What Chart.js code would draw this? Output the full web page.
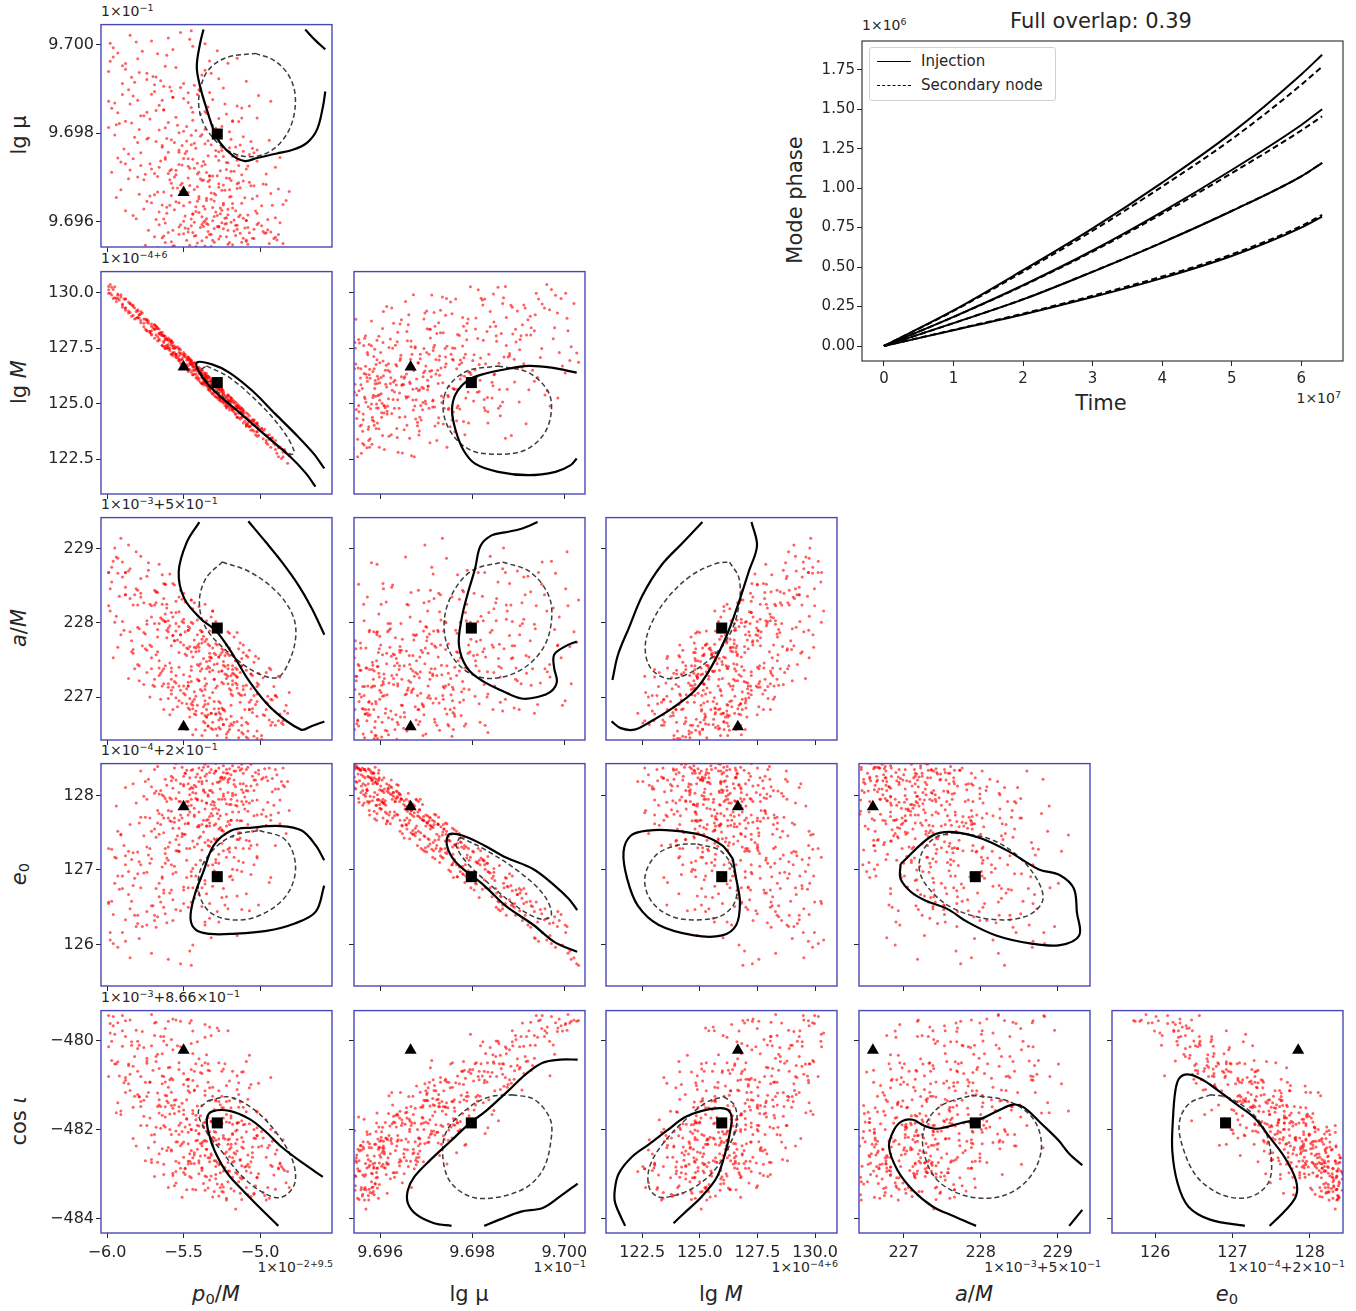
<!DOCTYPE html>
<html>
<head>
<meta charset="utf-8">
<script src="https://cdn.jsdelivr.net/npm/chart.js@4.4.1/dist/chart.umd.min.js"></script>
<style>
  body { margin: 0; background: #fff; }
  #fig { position: relative; width: 1356px; height: 1311px; overflow: hidden;
         font-family: "DejaVu Sans", sans-serif; color: #262626; }
  #fig canvas { position: absolute; }
  .txt { position: absolute; white-space: nowrap; line-height: 1; }
  .off { font-size: 14px; }
  .off.right { transform: translateX(-100%); }
  sup { font-size: 0.68em; vertical-align: 0.5em; line-height: 0; }
  sub { font-size: 0.7em; vertical-align: -0.25em; line-height: 0; }
  .ylab { font-size: 21px; transform: translate(-50%, -50%) rotate(-90deg); }
  .xlab { font-size: 21px; transform: translate(-50%, -50%); }
  .ctr { transform: translate(-50%, -50%); font-size: 21px; }
  #legend { position: absolute; left: 869px; top: 47px; width: 185px; height: 52px;
            border: 1px solid #d0d0d0; border-radius: 3px; background: rgba(255,255,255,0.85);
            font-size: 15px; }
  #legend .row { position: absolute; left: 7px; height: 18px; display: flex; align-items: center; }
  #legend .swatch { width: 34px; height: 0; border-top: 1.8px solid #000; margin-right: 10px; }
  #legend .swatch.dash { border-top-style: dashed; }
</style>
</head>
<body>
<div id="fig">
  <!-- offset texts of the row axes -->
  <div class="txt off" style="left:101px;top:4px">1×10<sup>−1</sup></div>
  <div class="txt off" style="left:101px;top:251px">1×10<sup>−4+6</sup></div>
  <div class="txt off" style="left:101px;top:497px">1×10<sup>−3</sup>+5×10<sup>−1</sup></div>
  <div class="txt off" style="left:101px;top:743px">1×10<sup>−4</sup>+2×10<sup>−1</sup></div>
  <div class="txt off" style="left:101px;top:990px">1×10<sup>−3</sup>+8.66×10<sup>−1</sup></div>
  <!-- offset texts of the column axes -->
  <div class="txt off right" style="left:333px;top:1260px">1×10<sup>−2+9.5</sup></div>
  <div class="txt off right" style="left:586px;top:1260px">1×10<sup>−1</sup></div>
  <div class="txt off right" style="left:838px;top:1260px">1×10<sup>−4+6</sup></div>
  <div class="txt off right" style="left:1101px;top:1260px">1×10<sup>−3</sup>+5×10<sup>−1</sup></div>
  <div class="txt off right" style="left:1345px;top:1260px">1×10<sup>−4</sup>+2×10<sup>−1</sup></div>
  <!-- axis labels -->
  <div class="txt ylab" style="left:19px;top:135px">lg μ</div>
  <div class="txt ylab" style="left:19px;top:382px">lg <i>M</i></div>
  <div class="txt ylab" style="left:19px;top:628px"><i>a</i>/<i>M</i></div>
  <div class="txt ylab" style="left:19px;top:874px"><i>e</i><sub>0</sub></div>
  <div class="txt ylab" style="left:19px;top:1121px">cos <i>ι</i></div>
  <div class="txt xlab" style="left:216px;top:1294px"><i>p</i><sub>0</sub>/<i>M</i></div>
  <div class="txt xlab" style="left:469px;top:1294px">lg μ</div>
  <div class="txt xlab" style="left:721px;top:1294px">lg <i>M</i></div>
  <div class="txt xlab" style="left:974px;top:1294px"><i>a</i>/<i>M</i></div>
  <div class="txt xlab" style="left:1227px;top:1294px"><i>e</i><sub>0</sub></div>
  <!-- phase plot texts -->
  <div class="txt ctr" style="left:1101px;top:21px">Full overlap: 0.39</div>
  <div class="txt off" style="left:862px;top:18px">1×10<sup>6</sup></div>
  <div class="txt off right" style="left:1341px;top:391px">1×10<sup>7</sup></div>
  <div class="txt ylab" style="left:795px;top:200px">Mode phase</div>
  <div class="txt ctr" style="left:1101px;top:403px">Time</div>
  <div id="legend">
    <div class="row" style="top:4px"><span class="swatch"></span>Injection</div>
    <div class="row" style="top:28px"><span class="swatch dash"></span>Secondary node</div>
  </div>
</div>
<script>
// parameters in column order: p0/M, lg mu, lg M, a/M, e0, cos iota (offset units)
const paramKeys = ['p0', 'lgmu', 'lgM', 'aM', 'e0', 'cosi'];
const axisMin = [-6.04, 9.69543, 120.93, 226.42, 125.44, -484.32];
const axisMax = [-4.53, 9.70045, 130.95, 229.42, 128.43, -479.33];
const tickValues = [
  [-6.0, -5.5, -5.0],
  [9.696, 9.698, 9.700],
  [122.5, 125.0, 127.5, 130.0],
  [227, 228, 229],
  [126, 127, 128],
  [-484, -482, -480]
];
const tickDecimals = [1, 3, 1, 0, 0, 0];

const injectionPoint = [-5.5, 9.69666, 126.65, 226.6, 127.85, -480.22];
const secondaryPoint = [-5.28, 9.69798, 125.95, 227.93, 126.91, -481.85];

// posterior samples: [p0, lgmu, lgM, aM, e0, cosi]
const posterior = [
[-5.32,9.69572,126.01,226.78,128.07,-482.58],[-5.18,9.69548,124.74,227.22,128.40,-482.63],
[-5.45,9.69591,126.77,226.91,127.87,-483.08],[-5.05,9.69563,124.28,226.84,128.26,-482.39],
[-5.38,9.69536,125.91,227.08,128.19,-482.92],[-5.25,9.69598,125.40,227.65,128.24,-483.23],
[-5.58,9.69555,127.73,227.04,128.20,-482.48],[-4.95,9.69582,123.17,226.91,128.20,-483.30],
[-5.29,9.69519,125.91,226.77,128.33,-482.70],[-5.12,9.69541,124.39,226.72,128.42,-483.11],
[-5.47,9.69577,126.55,227.90,127.92,-482.32],[-5.22,9.69566,125.30,226.45,128.35,-483.58],
[-5.35,9.69507,125.96,227.48,128.29,-483.06],[-5.02,9.69594,124.13,226.44,127.94,-483.07],
[-5.41,9.69552,126.61,227.44,128.29,-482.44],[-5.15,9.69583,124.39,227.37,127.93,-482.99],
[-5.55,9.69528,127.23,227.29,128.43,-482.94],[-5.28,9.69589,125.90,226.48,128.18,-483.22],
[-4.88,9.69571,123.01,226.68,128.09,-482.86],[-5.36,9.69545,125.88,227.10,128.42,-483.36],
[-5.21,9.69513,125.14,227.18,128.21,-482.93],[-5.62,9.69597,128.04,228.12,128.22,-481.94],
[-5.09,9.69559,124.04,226.26,128.13,-483.30],[-5.33,9.69532,126.03,227.54,128.31,-483.13],
[-5.44,9.69576,126.30,226.94,128.35,-483.34],[-5.19,9.69599,125.15,227.09,127.88,-482.40],
[-5.67,9.69542,128.02,227.61,128.39,-482.73],[-5.26,9.69567,125.22,226.77,128.24,-483.30],
[-5.01,9.69526,123.97,227.17,128.29,-482.99],[-5.39,9.69587,126.57,227.35,128.24,-482.59],
[-5.14,9.69505,124.57,226.45,128.38,-483.17],[-5.31,9.69558,125.85,227.36,128.04,-482.35],
[-5.52,9.69593,126.98,227.84,128.16,-482.87],[-5.08,9.69549,124.33,226.64,128.38,-482.57],
[-5.24,9.69521,125.03,227.48,128.22,-483.40],[-5.43,9.69568,126.69,226.77,128.14,-482.76],
[-4.98,9.69578,123.42,226.76,128.24,-483.41],[-5.34,9.69537,126.19,226.76,128.39,-482.63],
[-5.16,9.69592,124.81,227.49,127.87,-482.96],[-5.49,9.69515,126.63,227.58,128.30,-482.88],
[-5.27,9.69561,125.68,226.84,128.37,-483.49],[-5.11,9.69534,124.68,227.15,128.30,-483.08],
[-5.57,9.69581,127.61,227.13,128.24,-482.98],[-5.37,9.69599,125.94,227.82,128.08,-482.26],
[-5.20,9.69553,124.92,226.61,128.36,-482.93],[-4.92,9.69539,123.42,226.96,128.23,-482.83],
[-5.30,9.69585,125.38,227.24,128.30,-483.39],[-5.46,9.69547,126.79,227.28,128.09,-483.05],
[-5.13,9.69574,124.86,226.28,128.16,-482.67],[-5.60,9.69524,127.46,227.93,128.50,-483.30],
[-5.23,9.69595,125.37,227.41,127.95,-482.21],[-5.04,9.69562,123.76,226.37,128.07,-483.45],
[-5.40,9.69511,126.54,227.22,128.37,-482.75],[-5.17,9.69579,124.77,226.31,128.33,-482.71],
[-5.32,9.69544,125.51,227.53,128.35,-483.04],[-5.53,9.69588,127.45,227.15,128.04,-482.75],
[-5.06,9.69531,124.20,227.31,128.42,-482.97],[-5.42,9.69569,126.32,227.66,128.03,-483.35],
[-5.19,9.69509,125.25,226.74,128.28,-483.32],[-5.35,9.69596,126.11,226.73,128.20,-482.44],
[-4.85,9.69551,122.61,226.68,128.37,-482.88],[-5.25,9.69530,125.10,227.20,128.25,-483.39],
[-5.50,9.69573,127.20,227.15,128.26,-482.28],[-5.10,9.69586,124.21,226.83,127.98,-482.84],
[-5.29,9.69518,125.81,226.57,128.43,-483.01],[-5.38,9.69557,126.16,227.73,128.34,-482.36],
[-5.03,9.69502,124.10,226.90,128.31,-483.26],[-5.64,9.69564,127.62,228.25,128.01,-482.43],
[-5.21,9.69581,124.99,226.53,128.30,-483.17],[-5.45,9.69527,126.92,227.36,128.34,-482.76],
[-5.16,9.69540,124.51,227.19,128.12,-482.55],[-5.34,9.69594,126.24,227.41,128.01,-483.31],
[-4.90,9.69565,123.14,227.02,128.35,-483.34],[-5.24,9.69504,125.48,226.83,128.40,-482.93],
[-5.47,9.69584,126.45,227.15,128.16,-482.77],[-5.12,9.69554,124.64,227.42,128.36,-483.57],
[-5.36,9.69522,126.18,226.65,128.26,-483.04],[-5.27,9.69590,125.33,226.94,128.18,-482.33],
[-5.56,9.69546,127.50,227.76,128.37,-483.26],[-5.07,9.69575,123.96,226.83,127.90,-482.84],
[-5.30,9.69612,125.88,226.84,127.87,-482.19],[-5.55,9.69645,127.18,227.99,127.96,-482.71],
[-5.14,9.69688,124.92,227.05,127.50,-481.50],[-5.42,9.69623,126.17,226.81,128.12,-482.25],
[-5.23,9.69671,125.17,227.56,127.48,-482.54],[-5.68,9.69605,128.39,227.57,128.06,-481.95],
[-5.05,9.69652,123.83,226.79,127.93,-482.62],[-5.37,9.69694,126.39,226.87,127.67,-481.85],
[-5.26,9.69631,125.52,227.57,127.73,-482.97],[-5.48,9.69663,126.62,227.56,127.92,-481.77],
[-5.11,9.69608,124.58,226.40,128.04,-482.42],[-5.33,9.69679,125.68,227.49,127.59,-482.63],
[-5.59,9.69637,127.79,227.46,127.97,-481.65],[-5.20,9.69656,125.32,226.41,127.61,-482.21],
[-5.44,9.69617,126.50,227.99,128.10,-482.63],[-4.96,9.69684,123.59,226.83,127.72,-482.62],
[-5.31,9.69602,125.45,227.06,127.82,-482.17],[-5.52,9.69669,127.23,227.09,127.74,-481.85],
[-5.18,9.69641,124.79,227.37,128.03,-482.73],[-5.39,9.69697,126.47,227.45,127.45,-482.31],
[-5.25,9.69626,125.60,226.70,127.95,-481.87],[-5.72,9.69658,128.25,228.25,127.70,-481.74],
[-5.08,9.69615,124.53,226.54,128.06,-482.78],[-5.35,9.69648,125.86,227.78,127.59,-481.85],
[-5.46,9.69682,126.84,226.83,127.78,-482.54],[-5.22,9.69609,124.90,227.25,127.89,-482.50],
[-5.61,9.69633,127.63,227.80,127.92,-482.47],[-5.15,9.69675,124.89,226.37,127.86,-481.85],
[-5.40,9.69621,126.44,227.67,127.78,-481.92],[-5.29,9.69661,125.31,227.12,127.83,-482.83],
[-4.99,9.69636,123.88,226.43,127.75,-482.37],[-5.50,9.69601,127.30,227.70,128.13,-482.62],
[-5.34,9.69691,125.74,226.91,127.68,-481.73],[-5.21,9.69628,125.19,227.58,128.04,-482.97],
[-5.63,9.69667,127.56,227.38,127.50,-481.91],[-5.10,9.69654,124.41,227.03,127.82,-481.88],
[-5.38,9.69611,126.51,226.78,127.93,-482.86],[-5.27,9.69686,125.63,227.54,127.81,-482.21],
[-5.53,9.69643,126.95,227.60,127.67,-481.59],[-5.17,9.69604,125.02,226.66,128.21,-482.52],
[-5.43,9.69673,126.49,227.77,127.72,-482.52],[-5.02,9.69619,123.53,227.19,127.74,-482.13],
[-5.32,9.69651,125.86,226.58,127.88,-482.54],[-5.76,9.69695,128.82,228.27,127.46,-481.34],
[-5.24,9.69638,125.18,227.18,127.99,-482.13],[-5.45,9.69606,126.92,227.21,127.95,-482.47],
[-5.13,9.69677,124.31,227.33,127.50,-482.69],[-5.36,9.69629,125.98,227.25,128.04,-481.83],
[-5.58,9.69659,127.83,227.09,127.79,-482.45],[-5.19,9.69693,125.05,226.89,127.67,-481.74],
[-5.28,9.69614,125.75,227.45,127.76,-482.74],[-5.41,9.69646,126.21,226.89,127.95,-482.24],
[-4.93,9.69664,123.44,226.62,127.67,-481.99],[-5.66,9.69622,127.91,227.99,128.02,-482.54],
[-5.24,9.69683,125.58,226.63,127.52,-482.19],[-5.37,9.69635,125.84,227.52,128.06,-481.94],
[-5.09,9.69603,124.39,226.46,128.07,-482.82],[-5.51,9.69687,127.02,228.02,127.70,-482.32],
[-5.30,9.69647,125.83,227.24,127.60,-481.78],[-5.16,9.69625,124.56,227.29,128.01,-482.31],
[-5.47,9.69666,127.00,227.20,127.86,-482.71],[-5.22,9.69699,125.00,226.50,127.59,-481.83],
[-5.35,9.69607,126.26,227.18,127.90,-482.26],[-5.12,9.69642,124.39,227.42,127.92,-482.81],
[-5.57,9.69676,127.51,227.83,127.56,-481.52],[-5.26,9.69618,125.22,226.72,128.09,-482.77],
[-5.04,9.69681,124.16,227.02,127.73,-482.00],[-5.40,9.69657,126.34,227.62,127.60,-482.70],
[-5.31,9.69632,126.05,226.56,127.92,-481.84],[-5.20,9.69672,124.72,227.11,127.88,-482.44],
[-5.40,9.69712,126.49,227.72,127.58,-482.09],[-5.62,9.69745,127.59,227.42,127.22,-480.93],
[-5.25,9.69768,125.65,227.60,127.36,-481.85],[-5.51,9.69728,126.97,226.92,127.45,-481.41],
[-5.78,9.69756,129.05,228.35,127.07,-481.37],[-5.33,9.69703,125.63,226.99,127.63,-481.35],
[-5.15,9.69739,124.79,227.12,127.55,-482.22],[-5.58,9.69785,127.23,228.14,127.07,-480.85],
[-5.46,9.69721,126.99,226.98,127.29,-481.89],[-5.07,9.69752,123.96,226.83,127.39,-481.06],
[-5.69,9.69709,128.35,228.44,127.55,-482.11],[-5.36,9.69776,126.28,226.75,127.37,-481.23],
[-5.22,9.69734,125.05,227.30,127.17,-481.37],[-5.53,9.69762,127.50,227.40,127.34,-481.90],
[-5.85,9.69717,129.11,228.33,127.61,-481.12],[-5.30,9.69791,125.53,227.59,126.99,-481.55],
[-5.44,9.69741,126.65,226.84,127.39,-480.90],[-5.12,9.69706,124.79,227.02,127.66,-482.18],
[-5.64,9.69772,128.07,227.35,127.04,-480.97],[-5.38,9.69726,125.91,227.88,127.61,-482.30],
[-5.27,9.69758,125.68,226.79,127.21,-481.37],[-5.56,9.69701,127.30,227.76,127.64,-481.34],
[-5.02,9.69737,124.08,227.14,127.16,-482.14],[-5.48,9.69782,127.07,227.11,127.29,-481.33],
[-5.72,9.69731,128.20,227.70,127.29,-480.94],[-5.19,9.69714,124.85,227.29,127.67,-481.69],
[-5.42,9.69766,126.57,227.61,127.07,-481.78],[-5.34,9.69749,125.79,226.61,127.40,-480.94],
[-5.61,9.69788,127.88,228.25,127.16,-481.36],[-5.09,9.69719,123.99,226.66,127.40,-481.60],
[-5.49,9.69754,127.23,227.03,127.48,-481.94],[-5.80,9.69779,128.88,228.44,126.95,-480.69],
[-5.28,9.69704,125.80,227.15,127.42,-481.86],[-5.37,9.69736,125.94,227.02,127.51,-481.93],
[-5.66,9.69723,128.16,227.29,127.48,-481.33],[-5.16,9.69769,124.91,227.49,127.30,-482.03],
[-5.45,9.69795,126.42,227.61,126.92,-480.65],[-5.24,9.69747,125.38,226.63,127.26,-481.51],
[-5.55,9.69716,127.53,227.89,127.26,-482.03],[-5.89,9.69764,129.72,227.90,127.33,-480.95],
[-5.32,9.69774,126.11,227.53,127.38,-481.82],[-5.14,9.69727,124.37,226.30,127.41,-481.21],
[-5.50,9.69743,126.80,228.00,127.48,-481.66],[-5.41,9.69708,126.46,227.24,127.35,-481.47],
[-5.74,9.69787,128.28,228.03,127.31,-481.26],[-5.21,9.69733,125.34,227.43,127.28,-482.33],
[-5.60,9.69757,127.51,227.13,127.31,-481.05],[-5.35,9.69711,126.21,227.38,127.59,-482.03],
[-5.06,9.69781,124.20,226.96,126.94,-480.99],[-5.47,9.69725,126.50,227.90,127.62,-482.06],
[-5.29,9.69761,125.66,226.77,127.14,-481.33],[-5.67,9.69702,128.37,227.81,127.63,-481.18],
[-5.18,9.69748,124.74,227.32,127.45,-481.88],[-5.39,9.69793,126.42,227.10,127.13,-481.69],
[-5.53,9.69729,127.15,228.15,127.25,-481.49],[-5.26,9.69715,125.17,226.92,127.57,-481.44],
[-5.83,9.69742,128.98,227.64,127.23,-481.50],[-5.43,9.69777,126.84,227.07,127.31,-480.69],
[-5.11,9.69759,124.63,227.10,127.10,-481.89],[-5.58,9.69718,127.63,227.69,127.65,-481.46],
[-5.62,9.69812,127.94,228.02,127.09,-481.23],[-5.35,9.69845,125.81,226.83,126.68,-480.32],
[-5.88,9.69827,129.71,228.68,127.07,-480.89],[-5.47,9.69869,127.10,227.65,126.76,-481.03],
[-5.20,9.69803,125.12,227.56,127.24,-480.91],[-5.71,9.69888,128.14,227.53,126.52,-480.12],
[-5.55,9.69836,127.23,228.14,126.97,-481.33],[-5.97,9.69856,130.25,228.55,126.58,-480.02],
[-5.31,9.69817,126.05,226.66,127.07,-481.25],[-5.64,9.69874,127.62,228.05,126.89,-480.30],
[-5.44,9.69829,126.80,227.54,126.76,-480.29],[-5.79,9.69808,128.86,227.42,127.11,-481.27],
[-5.15,9.69861,124.89,227.27,126.65,-481.10],[-5.58,9.69895,127.78,227.39,126.73,-479.98],
[-5.39,9.69843,125.97,227.90,126.89,-480.72],[-5.92,9.69822,129.67,228.36,126.74,-480.80],
[-5.50,9.69878,127.10,227.05,126.77,-480.99],[-5.27,9.69833,125.28,227.34,127.09,-480.50],
[-5.68,9.69851,128.49,228.27,126.75,-480.36],[-5.42,9.69806,126.52,227.01,126.92,-480.52],
[-5.83,9.69884,129.43,228.24,126.79,-480.58],[-5.23,9.69866,125.07,226.81,126.53,-480.52],
[-5.60,9.69824,127.86,228.03,127.13,-481.40],[-5.33,9.69892,125.98,227.69,126.55,-480.68],
[-5.76,9.69839,128.47,227.87,126.96,-480.16],[-5.48,9.69815,126.77,226.91,127.13,-480.88],
[-5.99,9.69872,130.28,228.68,126.55,-480.14],[-5.36,9.69849,126.33,227.15,126.86,-481.13],
[-5.53,9.69801,126.95,227.95,127.25,-480.65],[-5.66,9.69863,128.16,227.39,126.64,-480.63],
[-5.18,9.69826,125.19,227.17,126.87,-480.69],[-5.86,9.69898,129.18,228.70,126.67,-480.56],
[-5.45,9.69858,126.82,227.41,126.57,-480.07],[-5.29,9.69811,125.51,227.57,127.10,-481.36],
[-5.74,9.69847,128.68,227.33,126.97,-480.51],[-5.57,9.69881,127.16,227.83,126.60,-480.88],
[-5.12,9.69834,124.64,226.52,126.98,-480.71],[-5.94,9.69819,129.75,228.09,127.16,-480.52],
[-5.41,9.69887,126.61,227.69,126.72,-480.03],[-5.63,9.69853,127.81,228.33,126.69,-480.81],
[-5.82,9.69915,129.31,228.38,126.39,-480.36],[-5.55,9.69948,127.08,227.19,126.47,-479.54],
[-5.96,9.69972,130.14,228.83,126.01,-479.46],[-5.38,9.69931,126.51,227.38,126.51,-480.56],
[-5.71,9.70008,128.29,228.23,125.88,-479.42],[-5.63,9.69906,128.06,227.18,126.73,-479.91],
[-5.88,9.69957,129.31,228.38,126.33,-479.91],[-5.27,9.69923,125.63,227.54,126.30,-479.78],
[-5.77,9.69985,129.08,227.69,126.24,-479.80],[-5.50,9.69912,126.80,228.05,126.55,-480.74],
[-5.99,9.69939,129.98,228.23,126.57,-479.44],[-5.44,9.69996,126.70,226.89,125.99,-479.79],
[-5.68,9.69927,128.09,228.42,126.23,-479.59],[-5.85,9.70021,129.51,227.88,125.82,-479.54],
[-5.33,9.69963,125.58,227.34,126.35,-479.70],[-5.59,9.69904,127.89,227.96,126.69,-480.60],
[-5.93,9.69981,129.89,228.67,125.96,-479.60],[-5.74,9.69935,128.28,227.98,126.44,-480.40],
[-5.46,9.70012,126.94,227.68,125.91,-479.61],[-5.65,9.69918,128.09,227.32,126.57,-479.91],
[-5.90,9.69952,129.49,228.82,126.16,-479.44],[-5.24,9.69902,125.08,226.83,126.75,-480.64],
[-5.80,9.69968,129.23,227.44,126.28,-480.02],[-5.57,9.69989,127.31,228.08,126.32,-479.52],
[-5.69,9.69909,128.55,227.99,126.32,-479.61],[-5.98,9.70003,129.97,228.46,126.16,-479.62],
[-5.36,9.69942,126.18,226.90,126.30,-479.93],[-5.61,9.69976,127.93,228.20,126.29,-480.10],
[-5.84,9.69926,128.94,227.76,126.58,-480.11],[-5.52,9.70027,127.28,227.74,125.74,-479.57],
[-5.62,9.69553,127.89,228.52,127.96,-481.72],[-4.82,9.69527,122.31,226.78,128.19,-482.94],[-5.73,9.69581,128.72,228.81,128.22,-482.41],[-4.91,9.69562,123.21,227.14,127.87,-483.02],
[-5.51,9.69508,126.77,226.62,128.38,-483.52],[-5.15,9.69592,124.99,227.87,127.67,-481.85],[-5.78,9.69538,128.75,228.60,128.33,-481.91],[-4.97,9.69574,123.85,226.75,128.36,-483.48],
[-5.40,9.69516,126.04,228.22,128.19,-482.10],[-5.08,9.69587,124.03,226.44,127.79,-483.46],[-5.57,9.69545,127.76,226.83,128.10,-483.03],[-4.87,9.69598,123.04,227.27,127.94,-482.75],
[-5.29,9.69529,125.81,228.02,128.33,-482.06],[-5.69,9.69566,127.95,227.14,128.35,-483.05],[-5.02,9.69514,123.73,226.94,128.15,-483.08],[-5.34,9.69578,126.14,226.31,127.99,-482.10],
[-5.46,9.69536,126.54,227.93,128.24,-482.71],[-4.94,9.69551,123.40,226.69,128.37,-483.54],[-5.22,9.69596,124.80,227.60,128.30,-483.54],[-5.65,9.69521,128.19,228.07,128.07,-481.97],
[-5.11,9.69563,124.53,226.50,128.16,-482.27],[-5.37,9.69589,126.04,226.67,128.38,-483.21],[-4.84,9.69541,122.94,226.81,128.12,-482.92],[-5.53,9.69572,127.30,228.35,127.92,-482.11],
[-5.26,9.69504,125.12,226.57,128.20,-482.75],[-5.04,9.69583,124.26,227.47,128.21,-483.43],[-5.75,9.69547,128.80,227.65,128.19,-482.70],[-5.18,9.69525,125.09,227.02,128.00,-482.11],
[-5.43,9.69599,126.84,226.97,127.83,-482.57],[-4.89,9.69559,122.77,227.00,128.28,-482.46],[-5.31,9.69533,125.45,227.66,128.16,-483.51],[-5.60,9.69576,127.66,227.88,127.80,-482.40],
[-5.13,9.69506,124.76,227.73,128.34,-483.08],[-4.99,9.69591,123.88,226.48,128.22,-482.04],[-5.48,9.69558,126.57,227.66,128.34,-483.35],[-5.20,9.69539,125.12,226.56,128.23,-482.61],
[-5.66,9.69593,127.86,228.79,127.76,-481.63],[-5.06,9.69518,123.80,227.11,128.13,-483.50],[-5.35,9.69565,126.36,228.03,127.90,-481.77],[-5.24,9.69584,125.28,227.43,128.31,-483.29],
[-5.58,9.69512,127.83,227.24,128.26,-482.11],[-4.93,9.69577,123.04,227.37,127.74,-482.80],[-5.42,9.69544,126.57,226.56,128.25,-482.02],[-5.16,9.69569,125.06,227.39,128.33,-483.78],
[-5.71,9.69531,128.09,228.08,128.12,-482.74],[-5.01,9.69597,123.87,227.32,128.34,-482.39],[-5.30,9.69554,125.58,226.94,127.91,-482.70],[-5.49,9.69586,127.13,227.88,128.30,-482.87],
[-4.86,9.69537,122.53,226.65,128.19,-482.83],[-5.12,9.69509,124.59,226.62,128.08,-482.39],[-5.38,9.69594,125.91,227.88,128.16,-482.86],[-5.63,9.69568,128.06,226.83,127.99,-483.01],
[-5.21,9.69549,125.39,227.28,128.18,-482.74],[-4.96,9.69575,123.34,226.93,128.25,-483.58],[-5.45,9.69523,126.77,228.31,128.11,-482.00],[-5.27,9.69588,125.68,226.59,127.69,-482.33],
[-5.09,9.69556,123.99,227.36,128.35,-482.93],[-5.55,9.69503,127.13,226.99,128.21,-483.20],[-5.33,9.69571,126.18,227.39,128.07,-482.05],[-5.17,9.69534,124.62,227.81,128.15,-483.38],
[-5.88,9.69625,129.31,228.48,128.11,-481.17],[-4.83,9.69648,122.78,226.89,127.49,-483.19],[-5.52,9.69683,126.83,228.44,127.92,-482.36],[-5.14,9.69611,124.82,226.55,127.78,-481.84],
[-5.79,9.69662,129.01,227.22,127.63,-481.26],[-5.33,9.69694,125.68,227.89,127.72,-482.72],[-4.92,9.69637,123.47,226.66,128.05,-482.26],[-5.63,9.69606,127.76,228.53,127.70,-482.78],
[-5.25,9.69671,125.65,227.35,127.53,-481.25],[-5.94,9.69655,129.60,228.89,127.86,-481.62],[-5.07,9.69689,124.26,227.63,127.29,-481.87],[-5.44,9.69618,126.80,226.49,128.04,-481.64],
[-5.71,9.69643,128.59,227.68,127.52,-482.67],[-4.88,9.69674,122.61,227.28,127.77,-482.88],[-5.36,9.69602,126.18,228.25,127.82,-482.24],[-5.58,9.69687,127.23,227.34,127.95,-481.16],
[-5.18,9.69631,124.79,227.42,127.78,-483.07],[-5.83,9.69614,129.38,227.59,128.16,-482.20],[-5.02,9.69658,124.03,226.54,127.55,-481.61],[-5.47,9.69699,126.70,227.95,127.74,-481.13],
[-5.29,9.69622,125.91,227.92,127.62,-483.10],[-5.67,9.69667,127.82,228.41,127.80,-481.48],[-4.95,9.69605,123.57,227.01,127.91,-482.41],[-5.40,9.69652,126.14,227.42,127.43,-482.99],
[-5.11,9.69692,124.73,227.60,127.88,-481.50],[-5.76,9.69629,128.62,227.17,127.99,-481.70],[-5.23,9.69608,124.92,227.31,128.24,-482.85],[-5.54,9.69676,127.56,226.87,127.46,-482.27],
[-4.85,9.69639,122.81,226.63,128.14,-482.23],[-5.32,9.69665,125.91,228.08,127.76,-481.81],[-5.61,9.69619,127.53,227.90,128.14,-481.24],[-5.06,9.69681,124.00,227.31,127.33,-482.72],
[-5.42,9.69634,126.77,226.76,127.96,-481.68],[-5.86,9.69697,129.08,229.05,127.25,-480.97],[-5.19,9.69657,125.25,227.04,127.95,-481.51],[-5.49,9.69613,126.73,228.28,127.62,-483.01],
[-4.98,9.69685,123.77,227.26,127.81,-482.19],[-5.74,9.69646,128.78,227.63,127.95,-481.91],[-5.27,9.69678,125.18,226.69,127.95,-482.79],[-5.56,9.69627,127.50,228.51,127.70,-481.45],
[-5.09,9.69603,124.59,227.16,127.92,-482.05],[-5.38,9.69693,126.21,226.48,127.27,-481.46],[-5.69,9.69661,128.55,228.24,128.03,-482.28],[-5.21,9.69616,124.89,227.88,127.65,-482.23],
[-4.81,9.69668,122.65,227.06,127.80,-483.30],[-5.46,9.69644,127.04,226.73,128.01,-481.17],[-5.15,9.69686,124.39,226.67,127.41,-482.48],[-5.81,9.69607,129.15,228.46,127.90,-482.37],
[-5.35,9.69653,126.21,226.73,127.67,-482.44],[-5.03,9.69624,123.60,227.55,128.21,-482.20],[-5.59,9.69695,127.49,226.76,127.66,-482.00],[-5.24,9.69642,125.48,227.63,128.02,-481.74],
[-5.91,9.69672,129.91,227.84,127.48,-481.66],[-5.13,9.69615,124.66,227.03,127.66,-483.43],[-5.41,9.69679,126.11,227.84,127.94,-481.02],[-5.64,9.69638,128.22,227.15,127.74,-481.68],
[-4.90,9.69609,122.94,227.02,128.09,-482.55],[-5.30,9.69664,125.98,227.44,127.42,-482.04],[-5.50,9.69636,126.70,227.30,128.15,-482.96],[-5.20,9.69698,125.12,227.66,127.30,-481.35],
[-5.97,9.69712,129.90,228.75,127.28,-480.45],[-4.87,9.69745,123.04,226.77,127.62,-482.77],[-5.64,9.69768,128.12,228.65,126.91,-480.80],[-5.08,9.69726,124.13,227.54,127.61,-481.32],
[-5.82,9.69791,128.81,227.38,126.89,-481.25],[-5.31,9.69703,126.05,228.16,127.73,-482.29],[-5.53,9.69757,127.00,226.95,127.56,-480.50],[-4.94,9.69784,123.60,227.39,126.83,-482.35],
[-5.91,9.69735,129.81,229.14,127.47,-481.58],[-5.22,9.69718,124.85,226.70,127.75,-481.01],[-5.45,9.69774,126.97,228.01,126.98,-482.00],[-5.75,9.69707,128.35,227.85,127.71,-480.94],
[-5.02,9.69762,123.73,226.74,127.34,-481.59],[-5.36,9.69729,126.28,226.55,127.10,-482.58],[-5.68,9.69781,128.49,228.42,127.44,-480.47],[-5.15,9.69749,124.79,227.17,127.00,-482.01],
[-5.59,9.69715,127.39,228.66,127.37,-480.88],[-5.95,9.69796,130.27,228.01,127.17,-479.86],[-5.27,9.69738,125.28,227.89,127.55,-481.13],[-4.90,9.69723,123.34,226.62,127.33,-482.06],
[-5.48,9.69759,126.97,226.56,126.90,-481.75],[-5.78,9.69727,128.65,228.40,127.71,-481.48],[-5.19,9.69786,125.25,226.64,126.92,-482.33],[-5.62,9.69741,127.49,228.02,127.29,-481.49],
[-5.33,9.69704,125.78,227.59,127.32,-481.06],[-5.05,9.69766,124.23,227.29,127.52,-482.52],[-5.86,9.69753,129.58,227.25,126.98,-480.53],[-5.41,9.69732,126.61,228.04,127.58,-481.90],
[-5.11,9.69792,124.13,227.70,127.29,-480.70],[-5.71,9.69719,128.49,227.38,127.15,-482.12],[-5.25,9.69761,125.65,226.85,127.54,-481.51],[-5.56,9.69779,127.60,227.21,127.05,-481.64],
[-4.96,9.69708,123.24,227.33,127.60,-481.78],[-5.93,9.69744,129.74,228.87,127.52,-481.40],[-5.38,9.69797,126.31,227.78,126.76,-480.74],[-5.65,9.69737,128.19,226.97,127.61,-481.48],
[-5.17,9.69714,125.12,227.31,127.17,-481.30],[-5.51,9.69772,126.77,228.32,127.49,-482.04],[-5.80,9.69701,129.18,227.94,127.24,-481.21],[-5.04,9.69756,124.26,226.47,127.07,-482.19],
[-5.43,9.69721,126.34,227.67,127.74,-481.13],[-5.73,9.69789,128.62,228.71,127.20,-481.17],[-5.29,9.69748,125.31,227.72,127.40,-482.24],[-5.60,9.69709,127.96,226.98,127.70,-480.61],
[-5.13,9.69773,124.76,226.93,127.43,-481.38],[-5.88,9.69731,129.21,228.38,127.19,-480.83],[-5.34,9.69783,126.24,226.61,127.33,-480.67],[-5.55,9.69706,127.23,228.29,127.41,-482.28],
[-5.20,9.69767,124.82,227.86,126.91,-481.84],[-5.47,9.69742,127.10,227.15,127.63,-480.87],
[-5.84,9.69823,129.44,227.61,127.14,-480.03],[-5.12,9.69857,124.79,227.52,126.47,-481.80],[-5.57,9.69881,127.26,228.53,126.95,-480.21],[-5.36,9.69809,126.18,227.75,126.81,-480.50],
[-5.95,9.69868,129.77,229.01,126.82,-480.53],[-5.02,9.69834,124.13,227.04,127.18,-481.96],[-5.69,9.69894,128.35,227.24,126.39,-479.89],[-5.44,9.69847,126.30,228.19,127.02,-481.57],
[-5.25,9.69815,125.55,227.35,126.63,-480.69],[-5.78,9.69839,129.15,228.90,126.76,-480.81],[-4.93,9.69872,123.44,226.97,126.90,-480.83],[-5.50,9.69804,127.20,228.40,126.73,-481.56],
[-5.90,9.69887,129.34,228.02,126.92,-479.78],[-5.18,9.69828,124.69,226.62,127.01,-482.09],[-5.63,9.69852,128.06,228.03,126.50,-480.01],[-5.31,9.69876,125.65,228.16,126.78,-481.05],
[-5.99,9.69813,130.13,228.68,127.29,-480.81],[-5.07,9.69861,124.46,226.93,126.45,-480.33],[-5.72,9.69832,128.25,227.00,127.09,-480.93],[-5.40,9.69898,126.64,227.22,126.67,-480.41],
[-5.22,9.69843,125.25,227.70,126.64,-481.66],[-5.85,9.69866,129.51,228.73,126.48,-480.76],[-5.54,9.69818,127.06,227.77,127.26,-480.12],[-5.01,9.69885,123.57,227.52,126.53,-480.96],
[-5.66,9.69807,128.36,227.49,126.82,-481.45],[-5.34,9.69859,125.64,227.71,127.06,-480.52],[-5.80,9.69874,128.88,228.24,126.39,-480.18],[-5.14,9.69826,124.82,227.65,127.12,-480.95],
[-5.47,9.69891,127.00,226.85,126.50,-480.87],[-5.93,9.69846,129.94,227.67,126.92,-480.48],
[-5.74,9.69921,128.78,228.63,126.26,-480.46],[-5.21,9.69958,125.39,227.38,126.48,-479.78],[-5.96,9.69993,129.74,227.53,126.40,-479.67],[-5.43,9.69908,126.64,228.27,126.62,-481.11],
[-5.60,9.70015,127.56,227.18,125.80,-479.57],[-5.88,9.69944,129.71,228.68,126.04,-479.56],[-5.09,9.69917,124.09,227.56,126.68,-480.47],[-5.67,9.69979,128.42,227.91,126.37,-480.31],
[-5.32,9.69935,126.01,226.78,126.09,-479.89],[-5.81,9.70006,128.85,228.96,126.24,-479.77],[-5.52,9.69903,127.43,227.84,126.45,-480.14],[-5.98,9.69962,130.37,228.16,126.06,-479.83],
[-5.28,9.69986,125.25,227.70,126.44,-479.72],[-5.70,9.69928,128.42,227.16,126.52,-480.67],[-5.45,9.70031,126.87,228.31,125.72,-479.55],[-5.90,9.69912,129.44,228.62,126.75,-480.13],
[-5.15,9.69969,124.89,227.27,126.12,-480.79],[-5.62,9.69951,127.49,228.52,126.41,-479.73],[-5.36,9.70002,126.38,226.95,126.26,-479.64],[-5.79,9.69937,129.01,227.92,126.08,-480.11]
];

// contour lines per panel "row,col" as [x, y] vertices
const solidLines = {
  '0,0': [
    [[-5.370,9.70034],[-5.392,9.70003],[-5.414,9.69950],[-5.392,9.69905],[-5.348,9.69853],[-5.305,9.69808],[-5.261,9.69778],[-5.174,9.69748],[-5.097,9.69737],[-5.021,9.69744],[-4.890,9.69754],[-4.781,9.69763],[-4.694,9.69778],[-4.628,9.69808],[-4.589,9.69860],[-4.574,9.69894]],
    [[-4.705,9.70034],[-4.640,9.70010],[-4.574,9.69989]]
  ],
  '1,0': [
    [[-4.638,121.26],[-4.700,121.86],[-4.801,122.60],[-4.976,123.64],[-5.151,124.69],[-5.301,125.58],[-5.389,126.32],[-5.414,126.85],[-5.314,126.77],[-5.201,126.40],[-5.051,125.58],[-4.901,124.54],[-4.750,123.50],[-4.650,122.75],[-4.580,122.08]]
  ],
  '1,1': [
    [[9.70027,126.40],[9.69972,126.62],[9.69922,126.70],[9.69872,126.55],[9.69822,126.32],[9.69789,126.03],[9.69764,125.43],[9.69756,124.69],[9.69764,123.79],[9.69781,122.90],[9.69806,122.30],[9.69856,121.93],[9.69922,121.78],[9.69981,121.93],[9.70014,122.23],[9.70027,122.53]]
  ],
  '2,0': [
    [[-5.397,229.36],[-5.479,229.09],[-5.532,228.69],[-5.496,228.33],[-5.390,228.06],[-5.283,227.88],[-5.177,227.57],[-5.070,227.21],[-4.928,226.85],[-4.733,226.56],[-4.661,226.61],[-4.580,226.67]],
    [[-5.077,229.37],[-4.963,229.09],[-4.857,228.82],[-4.750,228.51],[-4.661,228.19],[-4.580,227.84]]
  ],
  '2,1': [
    [[9.69942,229.36],[9.69907,229.27],[9.69871,229.22],[9.69842,229.18],[9.69818,229.04],[9.69806,228.73],[9.69789,228.37],[9.69777,228.06],[9.69771,227.70],[9.69789,227.39],[9.69824,227.21],[9.69866,227.08],[9.69907,226.98],[9.69942,227.00],[9.69972,227.08],[9.69984,227.21],[9.69978,227.39],[9.69978,227.57],[9.70001,227.68],[9.70027,227.75]]
  ],
  '2,2': [
    [[125.11,229.36],[124.29,229.09],[123.34,228.78],[122.51,228.37],[121.92,227.93],[121.45,227.57],[121.21,227.23]],
    [[121.17,226.67],[121.57,226.58],[122.16,226.56],[122.87,226.67],[123.81,226.85],[124.76,227.08],[125.47,227.39],[126.18,227.84],[126.65,228.24],[127.12,228.69],[127.48,229.04],[127.24,229.36]]
  ],
  '3,0': [
    [[-4.581,127.13],[-4.636,127.33],[-4.728,127.53],[-4.866,127.59],[-5.050,127.57],[-5.188,127.53],[-5.303,127.33],[-5.372,126.97],[-5.428,126.66],[-5.455,126.35],[-5.418,126.19],[-5.326,126.14],[-5.188,126.14],[-4.958,126.18],[-4.774,126.28],[-4.636,126.44],[-4.581,126.79]]
  ],
  '3,1': [
    [[9.70028,125.90],[9.69979,126.03],[9.69933,126.26],[9.69872,126.52],[9.69826,126.79],[9.69765,127.10],[9.69745,127.33],[9.69750,127.48],[9.69780,127.46],[9.69826,127.33],[9.69872,127.17],[9.69933,127.01],[9.69979,126.79],[9.70010,126.61],[9.70028,126.46]]
  ],
  '3,2': [
    [[126.43,127.15],[125.97,127.33],[125.05,127.47],[123.83,127.53],[122.76,127.53],[122.00,127.46],[121.69,127.24],[121.85,126.88],[122.31,126.52],[123.22,126.26],[124.75,126.12],[125.97,126.12],[126.58,126.26],[126.74,126.57],[126.58,126.88],[126.43,127.15]]
  ],
  '3,3': [
    [[226.96,127.08],[227.37,127.46],[227.65,127.51],[228.02,127.42],[228.38,127.24],[228.75,127.01],[229.03,126.93],[229.21,126.75],[229.25,126.43],[229.28,126.12],[229.03,125.99],[228.66,126.01],[228.20,126.12],[227.83,126.30],[227.56,126.48],[227.28,126.59],[227.10,126.70],[226.96,126.88],[226.96,127.08]]
  ],
  '4,0': [
    [[-4.881,-484.16],[-5.000,-483.76],[-5.114,-483.36],[-5.213,-482.99],[-5.298,-482.47],[-5.340,-482.02],[-5.346,-481.73],[-5.312,-481.59],[-5.199,-481.58],[-5.071,-481.76],[-4.972,-482.02],[-4.859,-482.39],[-4.717,-482.76],[-4.590,-483.06]]
  ],
  '4,1': [
    [[9.70029,-480.43],[9.69991,-480.43],[9.69953,-480.50],[9.69916,-480.76],[9.69878,-481.13],[9.69830,-481.58],[9.69793,-481.87],[9.69755,-482.24],[9.69708,-482.69],[9.69674,-483.06],[9.69660,-483.36],[9.69660,-483.65],[9.69679,-483.91],[9.69717,-484.10],[9.69755,-484.16]],
    [[9.69826,-484.16],[9.69859,-484.02],[9.69906,-483.84],[9.69953,-483.76],[9.69991,-483.50],[9.70029,-483.21]]
  ],
  '4,2': [
    [[121.76,-484.16],[121.33,-483.65],[121.31,-483.36],[121.48,-482.99],[122.06,-482.61],[122.82,-482.32],[123.58,-482.02],[124.33,-481.73],[125.09,-481.58],[125.85,-481.52],[126.22,-481.56],[126.38,-481.73],[126.32,-482.02],[126.13,-482.47],[125.75,-483.06],[125.09,-483.50],[124.33,-483.87],[123.86,-484.10]]
  ],
  '4,3': [
    [[227.94,-484.16],[227.66,-483.95],[227.38,-483.73],[227.12,-483.36],[226.92,-482.91],[226.81,-482.39],[226.87,-482.02],[226.98,-481.81],[227.12,-481.78],[227.26,-481.91],[227.40,-481.98],[227.54,-481.95],[227.77,-481.84],[228.00,-481.76],[228.22,-481.58],[228.42,-481.44],[228.56,-481.50],[228.79,-481.87],[229.01,-482.24],[229.15,-482.54],[229.32,-482.80]],
    [[229.15,-484.16],[229.32,-483.80]]
  ],
  '4,4': [
    [[127.16,-484.16],[126.71,-484.02],[126.43,-483.73],[126.29,-483.21],[126.22,-482.47],[126.23,-481.73],[126.26,-481.13],[126.31,-480.85],[126.42,-480.76],[126.60,-480.87],[126.82,-481.13],[127.05,-481.43],[127.28,-481.73],[127.48,-482.17],[127.67,-482.61],[127.82,-483.13],[127.82,-483.50],[127.67,-483.84],[127.48,-484.16]]
  ]
};

const dashedLines = {
  '0,0': [[[-5.032,9.69980],[-4.912,9.69965],[-4.814,9.69931],[-4.770,9.69883],[-4.792,9.69823],[-4.868,9.69778],[-4.977,9.69752],[-5.108,9.69748],[-5.239,9.69767],[-5.348,9.69808],[-5.398,9.69853],[-5.392,9.69898],[-5.337,9.69943],[-5.217,9.69971],[-5.032,9.69980]]],
  '1,0': [[[-5.351,126.70],[-5.201,126.18],[-5.001,124.98],[-4.851,123.79],[-4.776,122.83],[-4.801,122.72],[-4.951,123.50],[-5.151,124.69],[-5.326,125.88],[-5.389,126.47],[-5.351,126.70]]],
  '1,1': [[[9.69856,126.70],[9.69922,126.40],[9.69964,125.58],[9.69972,124.69],[9.69956,123.64],[9.69914,122.90],[9.69856,122.72],[9.69797,122.90],[9.69756,123.64],[9.69737,124.69],[9.69747,125.73],[9.69789,126.47],[9.69856,126.70]]],
  '2,0': [[[-5.248,228.82],[-5.070,228.69],[-4.892,228.42],[-4.786,228.10],[-4.768,227.79],[-4.821,227.43],[-4.892,227.26],[-5.034,227.34],[-5.212,227.61],[-5.354,227.93],[-5.397,228.28],[-5.354,228.60],[-5.248,228.82]]],
  '2,1': [[[9.69866,228.82],[9.69925,228.69],[9.69966,228.37],[9.69972,228.02],[9.69954,227.66],[9.69907,227.37],[9.69842,227.25],[9.69789,227.34],[9.69751,227.61],[9.69739,228.02],[9.69759,228.42],[9.69801,228.71],[9.69866,228.82]]],
  '2,2': [[[126.29,228.82],[126.70,228.60],[126.70,228.24],[126.29,227.84],[125.47,227.52],[124.40,227.30],[123.58,227.25],[122.87,227.39],[122.63,227.66],[122.87,227.97],[123.58,228.33],[124.64,228.64],[125.70,228.80],[126.29,228.82]]],
  '3,0': [[[-5.004,127.53],[-4.843,127.42],[-4.774,127.15],[-4.783,126.84],[-4.866,126.57],[-5.027,126.37],[-5.188,126.33],[-5.326,126.43],[-5.395,126.66],[-5.395,126.97],[-5.303,127.28],[-5.165,127.47],[-5.004,127.53]]],
  '3,1': [[[9.69773,127.44],[9.69826,127.28],[9.69903,126.97],[9.69956,126.66],[9.69972,126.39],[9.69949,126.34],[9.69903,126.48],[9.69841,126.79],[9.69788,127.10],[9.69765,127.33],[9.69773,127.44]]],
  '3,2': [[[124.90,127.35],[125.97,127.24],[126.58,126.88],[126.52,126.57],[125.97,126.39],[125.05,126.33],[123.83,126.37],[122.92,126.57],[122.61,126.88],[123.07,127.19],[123.99,127.33],[124.90,127.35]]],
  '3,3': [[[227.65,127.50],[228.11,127.42],[228.48,127.19],[228.75,126.84],[228.80,126.57],[228.57,126.37],[228.11,126.34],[227.65,126.48],[227.37,126.70],[227.21,126.97],[227.24,127.24],[227.42,127.44],[227.65,127.50]]],
  '4,0': [[[-5.340,-481.35],[-5.199,-481.27],[-5.029,-481.58],[-4.887,-482.10],[-4.788,-482.69],[-4.774,-483.21],[-4.859,-483.52],[-4.972,-483.43],[-5.114,-483.06],[-5.255,-482.47],[-5.369,-481.95],[-5.403,-481.58],[-5.340,-481.35]]],
  '4,1': [[[9.69887,-481.22],[9.69934,-481.32],[9.69968,-481.73],[9.69972,-482.17],[9.69953,-482.91],[9.69906,-483.36],[9.69812,-483.54],[9.69755,-483.21],[9.69736,-482.61],[9.69745,-482.02],[9.69793,-481.50],[9.69840,-481.26],[9.69887,-481.22]]],
  '4,2': [[[126.04,-481.26],[126.51,-481.46],[126.60,-481.87],[126.32,-482.32],[125.75,-482.84],[124.90,-483.25],[123.96,-483.47],[123.20,-483.51],[122.80,-483.29],[122.82,-482.84],[123.39,-482.32],[124.33,-481.80],[125.28,-481.39],[126.04,-481.26]]],
  '4,3': [[[227.88,-481.23],[228.34,-481.35],[228.67,-481.73],[228.79,-482.32],[228.70,-482.91],[228.45,-483.36],[228.11,-483.54],[227.71,-483.43],[227.40,-483.06],[227.25,-482.39],[227.29,-481.87],[227.49,-481.46],[227.88,-481.23]]],
  '4,4': [[[126.71,-481.22],[126.94,-481.28],[127.22,-481.58],[127.42,-482.02],[127.50,-482.61],[127.48,-483.13],[127.33,-483.43],[127.11,-483.54],[126.82,-483.43],[126.54,-483.06],[126.37,-482.47],[126.31,-481.87],[126.43,-481.43],[126.71,-481.22]]]
};

// mode phase curves (time in 1e7, phase in 1e6)
const phaseTime = [0, 1, 2, 3, 4, 5, 6, 6.3];
const injectionPhase = [
  [0, 0.225, 0.48, 0.745, 1.035, 1.35, 1.72, 1.845],
  [0, 0.185, 0.385, 0.605, 0.85, 1.115, 1.40, 1.50],
  [0, 0.145, 0.295, 0.47, 0.655, 0.855, 1.075, 1.16],
  [0, 0.10, 0.20, 0.31, 0.43, 0.57, 0.75, 0.82]
];
const secondaryPhase = [
  [0, 0.222, 0.47, 0.73, 1.01, 1.31, 1.655, 1.77],
  [0, 0.184, 0.382, 0.598, 0.838, 1.095, 1.365, 1.455],
  [0, 0.145, 0.296, 0.471, 0.656, 0.856, 1.075, 1.16],
  [0, 0.102, 0.205, 0.318, 0.44, 0.58, 0.76, 0.83]
];
const phaseTicksX = [0, 1, 2, 3, 4, 5, 6];
const phaseTicksY = [0, 0.25, 0.5, 0.75, 1.0, 1.25, 1.5, 1.75];

// layout of the corner grid
const PANEL_LEFT = [101, 354, 606, 859, 1112];
const PANEL_TOP = [23, 270, 516, 762, 1009];
const PANEL_W = 231, PANEL_H = 224;
const INK = '#262626';
const FONT = 'DejaVu Sans';

const fig = document.getElementById('fig');

function addCanvas(left, top, w, h) {
  const c = document.createElement('canvas');
  c.width = w; c.height = h;
  c.style.left = left + 'px'; c.style.top = top + 'px';
  c.style.width = w + 'px'; c.style.height = h + 'px';
  fig.appendChild(c);
  return c;
}

function fmt(v, d) {
  return Number(v).toFixed(d).replace('-', '\u2212');
}

// box round the plot area
const frame = {
  id: 'frame',
  afterDraw(chart, args, opts) {
    const a = chart.chartArea, ctx = chart.ctx;
    ctx.save();
    ctx.strokeStyle = opts.color;
    ctx.lineWidth = opts.width;
    ctx.strokeRect(a.left, a.top, a.right - a.left, a.bottom - a.top);
    ctx.restore();
  }
};

function axis(isX, min, max, ticks, labelFn, size, pad, fontSize) {
  return {
    type: 'linear',
    position: isX ? 'bottom' : 'left',
    min: min, max: max,
    afterBuildTicks: s => { s.ticks = ticks.map(v => ({ value: v })); },
    afterFit: s => { if (isX) s.height = size; else s.width = size; },
    grid: { display: true, drawOnChartArea: false, drawTicks: true, tickLength: 5,
            tickColor: INK, tickWidth: 1 },
    border: { display: false },
    ticks: { autoSkip: false, maxRotation: 0, minRotation: 0, padding: pad, color: INK,
             font: { family: FONT, size: fontSize }, callback: labelFn }
  };
}

function toXY(pairs) {
  return pairs.map(p => ({ x: p[0], y: p[1] }));
}

function curve(pairs, dashed) {
  return {
    data: toXY(pairs),
    showLine: true,
    borderColor: dashed ? '#3c3c3c' : '#000',
    borderWidth: dashed ? 1.5 : 2.2,
    borderDash: dashed ? [5, 3] : [],
    tension: 0.35,
    pointRadius: 0,
    order: 2,
    clip: 0
  };
}

function marker(x, y, style, r) {
  return {
    data: [{ x: x, y: y }],
    pointStyle: style,
    pointRadius: r,
    backgroundColor: '#000',
    borderColor: '#000',
    pointBorderWidth: 0,
    order: 1,
    clip: false
  };
}

function cornerPanel(row, col) {
  const xi = col, yi = row + 1;
  const key = row + ',' + col;
  const L = PANEL_LEFT[col], T = PANEL_TOP[row];
  const canvas = addCanvas(L - 60, T - 10, PANEL_W + 70, PANEL_H + 50);

  const datasets = [{
    data: posterior.map(s => ({ x: s[xi], y: s[yi] })),
    pointRadius: 1.5,
    backgroundColor: 'rgba(255,0,0,0.62)',
    pointBorderWidth: 0,
    borderWidth: 0,
    order: 3,
    clip: 0
  }];
  (solidLines[key] || []).forEach(l => datasets.push(curve(l, false)));
  (dashedLines[key] || []).forEach(l => datasets.push(curve(l, true)));
  datasets.push(marker(injectionPoint[xi], injectionPoint[yi], 'triangle', 7));
  datasets.push(marker(secondaryPoint[xi], secondaryPoint[yi], 'rect', 7.8));

  const showX = row === 4, showY = col === 0;
  new Chart(canvas, {
    type: 'scatter',
    data: { datasets: datasets },
    options: {
      responsive: false, animation: false, devicePixelRatio: 1,
      layout: { padding: { top: 10, right: 10, left: 0, bottom: 0 } },
      plugins: { legend: { display: false }, tooltip: { enabled: false },
                 frame: { color: '#4848b8', width: 1.4 } },
      scales: {
        x: axis(true, axisMin[xi], axisMax[xi], tickValues[xi],
                v => showX ? fmt(v, tickDecimals[xi]) : '', 40, 5, 16),
        y: axis(false, axisMin[yi], axisMax[yi], tickValues[yi],
                v => showY ? fmt(v, tickDecimals[yi]) : '', 60, 2, 16)
      }
    },
    plugins: [frame]
  });
}

for (let r = 0; r < 5; r++) {
  for (let c = 0; c <= r; c++) cornerPanel(r, c);
}

// mode phase plot, plot area 862..1343 x 40..361
(function phasePlot() {
  const canvas = addCanvas(800, 30, 556, 361);
  const datasets = [];
  injectionPhase.forEach(arr => datasets.push({
    data: phaseTime.map((t, i) => ({ x: t, y: arr[i] })),
    showLine: true, borderColor: '#000', borderWidth: 2, pointRadius: 0,
    cubicInterpolationMode: 'monotone'
  }));
  secondaryPhase.forEach(arr => datasets.push({
    data: phaseTime.map((t, i) => ({ x: t, y: arr[i] })),
    showLine: true, borderColor: '#000', borderWidth: 2, borderDash: [6, 3.5], pointRadius: 0,
    cubicInterpolationMode: 'monotone'
  }));
  new Chart(canvas, {
    type: 'scatter',
    data: { datasets: datasets },
    options: {
      responsive: false, animation: false, devicePixelRatio: 1,
      layout: { padding: { top: 10, right: 13, left: 0, bottom: 0 } },
      plugins: { legend: { display: false }, tooltip: { enabled: false },
                 frame: { color: INK, width: 1.1 } },
      scales: {
        x: axis(true, -0.315, 6.6, phaseTicksX, v => fmt(v, 0), 30, 4, 15),
        y: axis(false, -0.095, 1.932, phaseTicksY, v => fmt(v, 2), 62, 2, 15)
      }
    },
    plugins: [frame]
  });
})();
</script>
</body>
</html>
